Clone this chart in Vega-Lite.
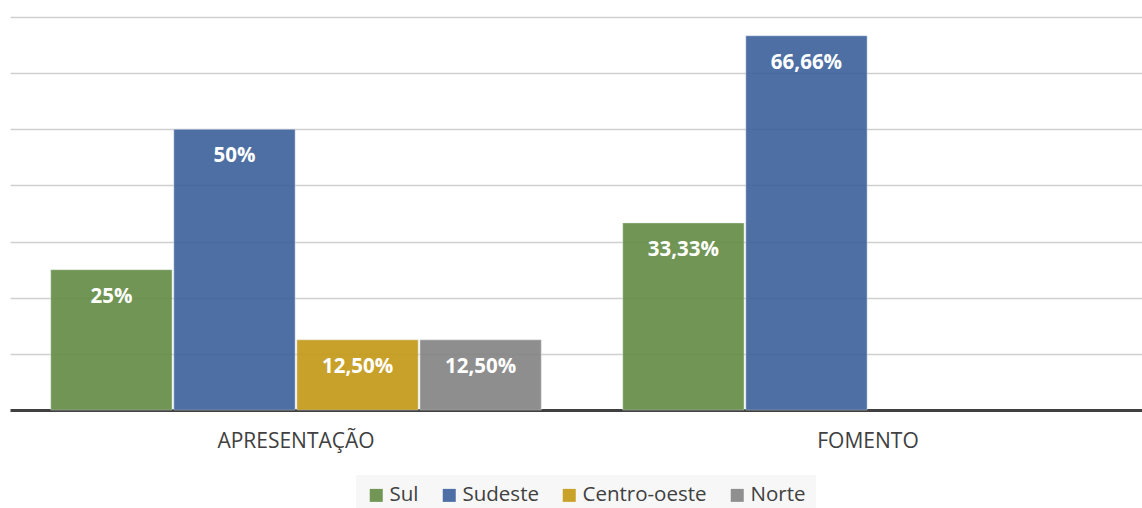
{
  "$schema": "https://vega.github.io/schema/vega-lite/v6.json",
  "width": 1132,
  "height": 393,
  "autosize": "none",
  "padding": {"left": 10, "top": 17, "right": 0, "bottom": 98},
  "background": "white",
  "config": {
    "view": {"stroke": null},
    "font": "Open Sans"
  },
  "data": {
    "values": [
      {"grupo": "APRESENTAÇÃO", "regiao": "Sul", "valor": 25, "rotulo": "25%"},
      {"grupo": "APRESENTAÇÃO", "regiao": "Sudeste", "valor": 50, "rotulo": "50%"},
      {"grupo": "APRESENTAÇÃO", "regiao": "Centro-oeste", "valor": 12.5, "rotulo": "12,50%"},
      {"grupo": "APRESENTAÇÃO", "regiao": "Norte", "valor": 12.5, "rotulo": "12,50%"},
      {"grupo": "FOMENTO", "regiao": "Sul", "valor": 33.33, "rotulo": "33,33%"},
      {"grupo": "FOMENTO", "regiao": "Sudeste", "valor": 66.66, "rotulo": "66,66%"}
    ]
  },
  "encoding": {
    "x": {
      "field": "grupo",
      "type": "nominal",
      "sort": ["APRESENTAÇÃO", "FOMENTO"],
      "scale": {"range": [0, 1144], "paddingInner": 0, "paddingOuter": 0},
      "axis": {
        "title": null,
        "labelAngle": 0,
        "ticks": false,
        "labelFontSize": 21,
        "labelColor": "#404040",
        "labelPadding": 20,
        "domainColor": "#404040",
        "domainWidth": 3,
        "grid": false
      }
    },
    "xOffset": {
      "field": "regiao",
      "type": "nominal",
      "sort": ["Sul", "Sudeste", "Centro-oeste", "Norte"],
      "scale": {"paddingInner": 0.014, "paddingOuter": 0.331}
    },
    "y": {
      "field": "valor",
      "type": "quantitative",
      "scale": {"domain": [0, 70], "nice": false},
      "axis": {
        "title": null,
        "labels": false,
        "ticks": false,
        "domain": false,
        "values": [10, 20, 30, 40, 50, 60, 70],
        "gridColor": "#d0d0d0",
        "gridWidth": 1.5
      }
    }
  },
  "layer": [
    {
      "mark": {"type": "bar", "opacity": 0.92, "stroke": "#e8eef5", "strokeWidth": 0.8, "strokeOpacity": 0.6},
      "encoding": {
        "color": {
          "field": "regiao",
          "type": "nominal",
          "sort": ["Sul", "Sudeste", "Centro-oeste", "Norte"],
          "scale": {
            "domain": ["Sul", "Sudeste", "Centro-oeste", "Norte"],
            "range": ["#658d46", "#3f639d", "#c49a18", "#858585"]
          },
          "legend": {
            "title": null,
            "orient": "none",
            "direction": "horizontal",
            "legendX": 346,
            "legendY": 458,
            "symbolType": "square",
            "symbolSize": 169,
            "symbolStrokeWidth": 0,
            "labelFontSize": 20.5,
            "labelColor": "#404040",
            "labelOffset": 3,
            "columnPadding": 20,
            "padding": 10,
            "fillColor": "#f7f7f7"
          }
        }
      }
    },
    {
      "mark": {
        "type": "text",
        "color": "white",
        "fontWeight": "bold",
        "fontSize": 20.5,
        "baseline": "middle",
        "align": "center",
        "dy": 27
      },
      "encoding": {
        "text": {"field": "rotulo"}
      }
    }
  ]
}
